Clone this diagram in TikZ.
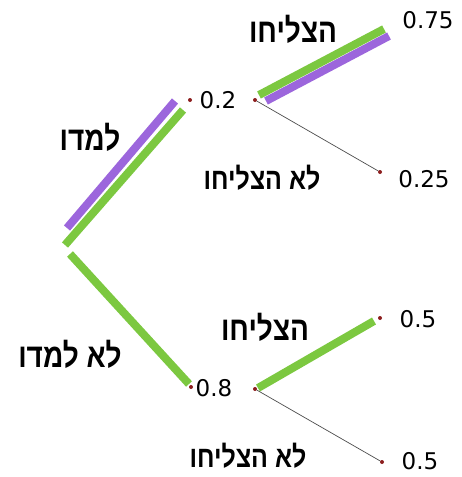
\documentclass[tikz,border=0pt]{standalone}
\usepackage{fontspec}
\setmainfont{Liberation Sans}
\newfontfamily\hebfont[Script=Hebrew]{Liberation Sans}
\newfontfamily\numfont{DejaVu Sans}
\TeXXeTstate=1
\usetikzlibrary{positioning}
\definecolor{treeGreen}{RGB}{124,200,64}
\definecolor{treePurple}{RGB}{156,102,220}
\definecolor{dotRed}{RGB}{140,30,30}
\newcommand{\hebtxt}[1]{\scalebox{1}[1.2]{\beginR #1\endR}}

\begin{document}
\begin{tikzpicture}[
    x=1pt, y=-1pt,
    val/.style={inner sep=0pt, font=\numfont\fontsize{23}{26}\selectfont},
    heb/.style={inner sep=0pt, font=\hebfont\bfseries\fontsize{28}{30}\selectfont},
    hebs/.style={heb, font=\hebfont\bfseries\fontsize{25}{28}\selectfont},
    pt/.style={circle, fill=dotRed, inner sep=0pt, minimum size=4pt},
    gline/.style={line width=8pt, treeGreen},
    pline/.style={line width=8pt, treePurple},
    tline/.style={line width=0.7pt, black!70},
  ]
    \useasboundingbox (0,0) rectangle (462,477);
    % points of the tree
    \coordinate (root) at (68,248);
    \node[pt] (s1) at (190,100) {};
    \node[pt] (s2) at (255,100) {};
    \node[pt] (f1) at (191,387) {};
    \node[pt] (f2) at (255,389) {};
    \coordinate (ok1) at (387,30);
    \node[pt] (no1) at (380,172) {};
    \node[pt] (ok2) at (380,318) {};
    \node[pt] (no2) at (382,462) {};
    % ends of the thick bands
    \coordinate (pa) at (67,228);  \coordinate (pb) at (175,101);
    \coordinate (ga) at (65,245);  \coordinate (gb) at (183,110);
    \coordinate (gc) at (70,254);  \coordinate (gd) at (189,384);
    \coordinate (ge) at (259,95);  \coordinate (gf) at (384,29);
    \coordinate (pc) at (266,101); \coordinate (pd) at (389,36);
    \coordinate (gg) at (258,388); \coordinate (gh) at (374,321);
    % values
    \node[val] (v02) at (218,100) {0.2};
    \node[val] (v08) at (214,388) {0.8};
    \node[val] (v075) at (428,20) {0.75};
    \node[val] (v025) at (424,179) {0.25};
    \node[val] (v05a) at (418,319) {0.5};
    \node[val] (v05b) at (420,461) {0.5};
    % labels
    \node[heb] (studied) at (90,137) {\hebtxt{למדו}};
    \node[heb] (nostudied) at (70,354) {\hebtxt{לא למדו}};
    \node[heb] (pass1) at (293,29) {\hebtxt{הצליחו}};
    \node[hebs] (fail1) at (262,178) {\hebtxt{לא הצליחו}};
    \node[heb] (pass2) at (265,327) {\hebtxt{הצליחו}};
    \node[hebs] (fail2) at (248,456) {\hebtxt{לא הצליחו}};
    % branches
    \draw[pline] (pa) -- (pb);
    \draw[gline] (ga) -- (gb);
    \draw[gline] (gc) -- (gd);
    \draw[pline] (pc) -- (pd);
    \draw[gline] (ge) -- (gf);
    \draw[tline] (s2) -- (no1);
    \draw[gline] (gg) -- (gh);
    \draw[tline] (f2) -- (no2);
  \end{tikzpicture}
\end{document}
